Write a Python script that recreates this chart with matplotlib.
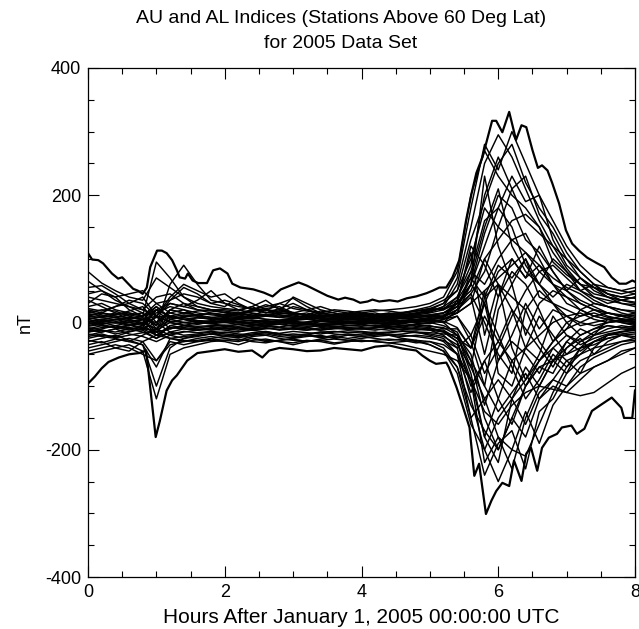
import matplotlib
matplotlib.use("Agg")
import matplotlib.pyplot as plt
from matplotlib.ticker import MultipleLocator

plt.rcParams['font.family'] = ['Liberation Sans', 'DejaVu Sans']
plt.rcParams['axes.unicode_minus'] = False

# ---- data -------------------------------------------------------------
title = "AU and AL Indices (Stations Above 60 Deg Lat)\nfor 2005 Data Set"
xlabel = "Hours After January 1, 2005 00:00:00 UTC"
ylabel = "nT"

# common time grid for station traces (hours)
station_hours = [0.0, 0.2, 0.4, 0.6, 0.8, 1.0, 1.2, 1.4, 1.6, 1.8,
                 2.0, 2.2, 2.4, 2.6, 2.8, 3.0, 3.2, 3.4, 3.6, 3.8,
                 4.0, 4.2, 4.4, 4.6, 4.8, 5.0, 5.2, 5.4, 5.6, 5.8,
                 6.0, 6.2, 6.4, 6.6, 6.8, 7.0, 7.2, 7.4, 7.6, 7.8, 8.0]

s01 = [80, 62, 50, 40, 35, 70, 55, 40, 30, 25,
       22, 20, 15, 12, 14, 16, 10, 8, 6, 8,
       6, 8, 10, 12, 15, 18, 25, 60, 150, 250,
       295, 260, 210, 160, 120, 85, 60, 45, 40, 35, 32]
s02 = [55, 58, 45, 30, 20, 10, 35, 55, 45, 30,
       25, 40, 30, 20, 15, 25, 20, 12, 10, 12,
       14, 10, 8, 12, 15, 20, 30, 70, 180, 280,
       240, 300, 250, 200, 130, 90, 70, 55, 50, 45, 50]
s03 = [40, 35, 30, 25, 15, -5, 60, 90, 60, 35,
       30, 20, 25, 35, 20, 15, 12, 18, 15, 10,
       8, 12, 15, 10, 12, 15, 20, 40, 90, 200,
       260, 210, 230, 170, 140, 100, 80, 60, 45, 40, 45]
s04 = [30, 45, 40, 20, 10, 95, 70, 40, 25, 20,
       18, 15, 20, 28, 22, 15, 10, 8, 12, 14,
       10, 8, 6, 10, 14, 18, 22, 30, 60, 120,
       180, 230, 190, 200, 160, 120, 90, 70, 55, 50, 55]
s05 = [20, 15, 25, 35, 30, 10, 40, 60, 50, 40,
       45, 30, 20, 15, 18, 40, 30, 20, 15, 10,
       12, 10, 8, 8, 10, 12, 15, 25, 45, 80,
       150, 210, 160, 140, 120, 100, 70, 50, 40, 35, 30]
s06 = [25, 30, 20, 15, 10, 20, 30, 25, 35, 50,
       30, 25, 22, 18, 30, 38, 25, 15, 20, 18,
       15, 12, 10, 14, 18, 22, 20, 30, 50, 100,
       130, 160, 170, 150, 95, 75, 60, 55, 45, 40, 38]
s07 = [10, 15, 12, 18, 25, 0, 20, 15, 18, 20,
       15, 12, 18, 22, 25, 15, 12, 10, 8, 10,
       12, 15, 10, 12, 14, 16, 25, 40, 80, 60,
       100, 130, 110, 90, 70, 55, 45, 30, 25, 20, 18]
s08 = [5, 10, 8, 12, 15, -10, 10, 15, 12, 8,
       10, 15, 12, 10, 8, 12, 15, 10, 8, 6,
       5, 8, 10, 6, 8, 10, 15, 30, 60, 30,
       80, 100, 70, 90, 60, 50, 70, 55, 40, 30, 25]
s09 = [0, 5, 2, -5, 0, -10, 5, 8, 3, 0,
       2, 5, 3, 0, 2, 4, 6, 3, 1, 2,
       3, 5, 2, 0, 2, 5, 0, -20, -80, -180,
       -120, -60, -40, -20, 0, 10, 15, 5, 0, 2, 0]
s10 = [-5, 0, 5, 0, -5, 20, 10, 5, 0, -2,
       0, -3, -5, 0, 2, -2, 0, -4, -2, 0,
       2, 0, -2, 0, 3, 0, -5, -15, -60, -150,
       -200, -150, -100, -60, -30, -10, 0, 10, 5, 0, -5]
s11 = [-10, -5, -8, -12, -5, 10, -10, -5, -8, -10,
       -6, -8, -10, -5, -3, -6, -8, -5, -4, -2,
       -3, -5, -2, -4, -6, -8, -15, -30, -90, -220,
       -180, -230, -150, -100, -60, -40, -20, -10, -5, -8, -10]
s12 = [-20, -15, -10, -18, -22, -30, -20, -15, -12, -10,
       -12, -15, -10, -8, -12, -10, -8, -12, -10, -8,
       -10, -8, -6, -8, -10, -12, -20, -40, -120, -200,
       -250, -200, -210, -160, -110, -70, -50, -30, -20, -15, -10]
s13 = [-30, -25, -20, -28, -35, -100, -40, -25, -20, -18,
       -15, -18, -20, -15, -18, -22, -20, -15, -18, -20,
       -18, -15, -20, -18, -15, -20, -25, -50, -150, -240,
       -190, -170, -230, -140, -120, -80, -60, -50, -40, -30, -25]
s14 = [-40, -35, -30, -25, -30, -60, -35, -30, -28, -25,
       -22, -20, -25, -30, -28, -25, -22, -20, -25, -28,
       -25, -22, -20, -25, -28, -30, -40, -70, -130, -170,
       -200, -150, -180, -120, -100, -110, -90, -70, -60, -50, -40]
s15 = [-50, -45, -40, -35, -45, -120, -50, -40, -35, -30,
       -28, -30, -25, -28, -30, -35, -30, -28, -32, -30,
       -28, -30, -32, -35, -40, -45, -50, -60, -90, -140,
       -160, -130, -110, -100, -105, -110, -115, -110, -95, -80, -70]
s16 = [10, 8, 12, 15, 10, 30, 15, 10, 12, 14,
       12, 10, 14, 12, 10, 8, 10, 12, 10, 8,
       10, 12, 8, 10, 12, 10, 8, 20, 40, -50,
       40, 80, 60, 20, -30, -10, 20, 30, 25, 15, 10]
s17 = [15, 20, 18, 10, 5, 0, 15, 20, 15, 12,
       10, 8, 6, 10, 12, 10, 8, 6, 5, 8,
       6, 4, 6, 8, 5, 3, 0, 10, -30, -100,
       20, 60, -20, 30, 50, 40, 20, 10, 15, 12, 8]
s18 = [-15, -10, -5, -8, -12, 10, 0, -5, -8, -6,
       -5, -8, -6, -4, -2, -5, -3, -6, -8, -5,
       -4, -6, -8, -5, -3, -5, -10, -10, -40, 50,
       -80, -100, -40, 10, -20, -50, -30, -20, -10, -5, -8]
s19 = [5, 0, -5, -10, -8, -15, -10, -5, 0, 3,
       5, 2, 0, -2, 0, 3, 5, 2, 0, -2,
       0, 2, 4, 2, 0, -2, 5, 15, 30, 100,
       60, 20, -40, -60, -30, 0, 10, 20, 15, 10, 5]
s20 = [-25, -20, -22, -15, -10, 0, -15, -20, -18, -15,
       -18, -20, -16, -14, -18, -20, -18, -15, -14, -16,
       -15, -18, -16, -14, -16, -18, -22, -35, -70, -120,
       -90, -120, -70, -100, -60, -30, -45, -30, -20, -18, -15]
s21 = [0, -5, -8, -5, 0, 20, 10, 5, 0, -2,
       -5, -3, 0, 2, 0, -2, -4, -2, 0, 2,
       0, -2, 0, 2, 4, 2, 0, 20, 80, 160,
       180, 150, 90, 60, 30, 0, -20, -10, 0, 5, 2]
s22 = [-8, -12, -15, -10, -15, -25, -5, -8, -10, -12,
       -10, -8, -12, -10, -8, -10, -12, -10, -8, -10,
       -8, -10, -12, -10, -8, -10, -12, -25, -60, -100,
       -140, -110, -80, -120, -90, -60, -80, -40, -20, -15, -12]
s23 = [35, 25, 15, 5, 0, -10, 20, 30, 20, 15,
       12, 10, 8, 12, 15, 12, 8, 5, 4, 6,
       5, 6, 8, 6, 4, 6, 10, 25, 60, 140,
       200, 180, 130, 110, 80, 50, 30, 20, 10, 5, 0]
s24 = [-35, -30, -40, -45, -30, -20, -25, -30, -25, -22,
       -25, -28, -22, -20, -25, -28, -30, -26, -22, -25,
       -22, -25, -28, -26, -30, -35, -45, -70, -150, -120,
       -180, -200, -140, -190, -130, -100, -70, -55, -45, -35, -30]
s25 = [2, 5, 8, 5, 10, 15, 25, 20, 10, 5,
       8, 6, 10, 20, 12, 8, 10, 15, 12, 8,
       10, 8, 12, 15, 20, 25, 35, 50, 100, 180,
       150, 130, 140, 100, 60, 40, 30, 20, 15, 10, 12]
s26 = [12, 15, 10, 8, 5, 10, 8, 12, 10, 8,
       6, 8, 10, 12, 8, 6, 8, 10, 12, 10,
       8, 10, 12, 10, 8, 10, 12, 15, 30, 50,
       70, 90, 110, 80, 90, 70, 50, 60, 45, 35, 40]
s27 = [-12, -8, -5, 0, -3, -20, -8, -10, -12, -8,
       -10, -12, -8, -6, -8, -10, -12, -8, -6, -8,
       -10, -8, -6, -8, -10, -12, -15, -30, -100, -60,
       -120, -160, -100, -70, -80, -40, -25, -50, -30, -20, -25]
s28 = [18, 12, 8, 2, 5, -15, 5, 10, 8, 5,
       4, 6, 8, 5, 3, 5, 8, 6, 4, 5,
       4, 2, 0, 3, 5, 8, 10, 20, 45, 0,
       -50, -80, 20, -30, -60, -80, -40, -20, 5, 10, 15]
s29 = [-18, -22, -25, -30, -20, -10, -20, -25, -22, -18,
       -20, -22, -18, -16, -20, -18, -20, -24, -20, -18,
       -20, -18, -20, -22, -20, -22, -30, -50, -110, -60,
       -30, -60, -100, -70, -60, -50, -40, -35, -25, -20, -22]
s30 = [45, 50, 35, 25, 20, 40, 45, 30, 25, 20,
       20, 18, 25, 15, 22, 30, 20, 15, 12, 14,
       15, 18, 20, 22, 25, 30, 40, 80, 200, 270,
       230, 200, 180, 150, 110, 80, 60, 40, 35, 30, 28]
s31 = [-3, 2, 5, 8, 5, -20, -5, 0, 2, 0,
       3, 0, -2, -4, 0, 2, 0, -3, -2, 0,
       -2, 0, -3, -5, -2, 0, 5, 10, -20, -80,
       -40, 10, 50, 80, 60, 30, 20, 10, 5, 0, -3]
s32 = [8, 3, 0, -3, -8, 20, 0, 5, 3, 2,
       0, 2, 4, 2, 0, -2, 0, 3, 4, 2,
       0, 3, 5, 2, 0, 4, 10, 30, 120, 90,
       40, 100, 70, 120, 80, 50, 35, 25, 15, 10, 5]
s33 = [-45, -40, -35, -40, -50, -60, -30, -35, -30, -28,
       -30, -35, -28, -26, -30, -32, -28, -30, -34, -30,
       -28, -30, -32, -30, -28, -35, -45, -80, -160, -200,
       -150, -120, -160, -110, -90, -100, -80, -70, -60, -45, -40]
s34 = [22, 18, 25, 30, 40, 10, 30, 25, 20, 18,
       16, 14, 18, 20, 18, 15, 20, 25, 18, 15,
       18, 20, 18, 15, 18, 20, 22, 35, 70, 40,
       90, 70, 100, 60, 40, 60, 50, 40, 30, 35, 40]
s35 = [2, -2, 0, 3, -2, 8, 2, 0, -3, 1,
       3, 1, -1, 2, 0, -2, 1, 3, 0, -1,
       1, 3, 0, -2, 1, 3, 2, -8, -40, 30,
       -60, -20, 30, -10, 20, 10, -5, 0, 5, 2, 0]
s36 = [-6, -3, -8, -4, -10, -12, 0, -4, -6, -5,
       -4, -6, -3, -5, -7, -4, -6, -5, -3, -5,
       -6, -4, -5, -7, -4, -6, -8, -20, -70, 40,
       60, -40, -90, -50, 10, -20, -30, -15, -5, -8, -6]
s37 = [-15, -12, -18, -14, -10, -20, -18, -14, -16, -14,
       -16, -14, -12, -15, -17, -14, -16, -18, -15, -13,
       -14, -16, -15, -13, -15, -16, -18, -20, -50, -130,
       -60, -30, -50, -80, -40, -20, -35, -25, -18, -14, -12]
s38 = [6, 8, 4, 6, 10, 25, 8, 5, 7, 6,
       4, 6, 8, 5, 4, 6, 5, 7, 6, 4,
       5, 7, 4, 6, 8, 5, 6, 15, 60, 230,
       120, 60, 100, 40, 30, 20, 10, 15, 8, 6, 4]
s39 = [-28, -32, -26, -30, -35, -70, -25, -28, -30, -26,
       -28, -26, -30, -32, -28, -26, -30, -28, -26, -28,
       -30, -28, -26, -28, -32, -30, -35, -50, -90, -180,
       -220, -120, -90, -60, -40, -60, -50, -40, -35, -30, -28]
s40 = [-2, 2, -1, 0, 4, 25, 5, 0, -2, 0,
       2, -1, 1, 3, 1, 0, -2, 1, 2, 0,
       -1, 1, 3, 0, 2, 4, 8, 35, 110, -20,
       60, 40, 20, 50, 30, 10, 0, -5, 0, 3, 2]
s41 = [-22, -18, -24, -20, -16, -15, -25, -22, -20, -18,
       -22, -24, -20, -18, -22, -24, -20, -22, -24, -20,
       -22, -20, -18, -20, -22, -25, -28, -40, -20, 30,
       -20, -70, -120, -90, -50, -70, -40, -30, -25, -20, -18]
s42 = [14, 10, 15, 12, 8, -5, 20, 15, 12, 14,
       12, 14, 10, 12, 15, 14, 12, 10, 12, 14,
       12, 10, 14, 12, 10, 12, 15, 25, 70, 150,
       210, 120, 80, 60, 100, 80, 50, 35, 25, 20, 15]
s43 = [-12, -15, -10, -8, -12, -25, -15, -10, -12, -10,
       -8, -10, -12, -9, -11, -8, -10, -12, -9, -11,
       -10, -12, -9, -11, -12, -10, -14, -25, -40, 10,
       -30, 20, -10, -40, -70, -30, -10, -20, -15, -10, -12]
s44 = [65, 50, 40, 45, 50, 30, 35, 45, 40, 30,
       35, 28, 20, 25, 30, 22, 18, 15, 10, 12,
       10, 12, 14, 16, 18, 22, 30, 50, 130, 190,
       250, 280, 220, 180, 150, 110, 80, 60, 55, 50, 45]

stations = [s01, s02, s03, s04, s05, s06, s07, s08, s09, s10, s11,
            s12, s13, s14, s15, s16, s17, s18, s19, s20, s21, s22,
            s23, s24, s25, s26, s27, s28, s29, s30, s31, s32, s33,
            s34, s35, s36, s37, s38, s39, s40, s41, s42, s43, s44]

# AU index (upper envelope)
au_hours = [0.0, 0.06, 0.15, 0.22, 0.35, 0.44, 0.5, 0.57, 0.66, 0.73,
            0.8, 0.86, 0.91, 1.01, 1.08, 1.15, 1.23, 1.3, 1.34, 1.42,
            1.46, 1.53, 1.61, 1.74, 1.83, 1.93, 2.04, 2.11, 2.23, 2.42,
            2.57, 2.7, 2.82, 2.96, 3.08, 3.2, 3.35, 3.5, 3.66, 3.76,
            3.88, 3.98, 4.09, 4.16, 4.26, 4.41, 4.53, 4.66, 4.8, 4.95,
            5.04, 5.14, 5.24, 5.33, 5.43, 5.53, 5.61, 5.68, 5.77, 5.91,
            5.97, 6.06, 6.16, 6.26, 6.34, 6.41, 6.5, 6.58, 6.64, 6.72,
            6.79, 6.89, 6.99, 7.08, 7.18, 7.3, 7.43, 7.55, 7.66, 7.77,
            7.87, 7.96, 8.0]
au_values = [109, 99, 98, 93, 77, 69, 71, 63, 53, 50,
             45, 55, 87, 113, 113, 109, 98, 82, 71, 69,
             77, 66, 62, 62, 82, 85, 77, 61, 55, 52,
             47, 41, 52, 58, 63, 58, 50, 42, 36, 39,
             36, 31, 33, 36, 33, 35, 33, 38, 41, 46,
             50, 55, 55, 71, 98, 161, 203, 235, 260, 317,
             317, 299, 331, 287, 310, 307, 271, 243, 247, 239,
             219, 187, 145, 124, 113, 102, 94, 87, 71, 61,
             61, 66, 64]

# AL index (lower envelope)
al_hours = [0.0, 0.1, 0.2, 0.3, 0.45, 0.6, 0.75, 0.85, 0.99, 1.05,
            1.15, 1.23, 1.3, 1.45, 1.6, 1.8, 2.0, 2.2, 2.4, 2.55,
            2.65, 2.8, 3.0, 3.2, 3.4, 3.6, 3.8, 4.0, 4.2, 4.4,
            4.6, 4.8, 4.89, 5.0, 5.09, 5.24, 5.28, 5.39, 5.47, 5.58,
            5.65, 5.72, 5.82, 5.9, 5.97, 6.06, 6.16, 6.23, 6.34, 6.41,
            6.48, 6.57, 6.64, 6.74, 6.86, 6.93, 7.07, 7.15, 7.26, 7.37,
            7.52, 7.66, 7.8, 7.84, 7.96, 8.0]
al_values = [-96, -85, -72, -62, -55, -50, -48, -44, -180, -155,
             -107, -91, -83, -60, -48, -45, -42, -46, -44, -55,
             -44, -40, -42, -45, -44, -40, -42, -44, -38, -36,
             -41, -44, -52, -60, -65, -63, -71, -102, -128, -165,
             -241, -222, -301, -280, -265, -252, -257, -217, -249, -206,
             -197, -233, -197, -181, -175, -165, -162, -175, -167, -139,
             -128, -118, -134, -150, -150, -107]

# ---- plot -------------------------------------------------------------
fig = plt.figure(figsize=(6.39, 6.29), dpi=100)
ax = fig.add_axes([88 / 639, 1 - 577 / 629, 547 / 639, 509 / 629])

for s in stations:
    ax.plot(station_hours, s, color='black', lw=1.05)
ax.plot(au_hours, au_values, color='black', lw=1.6)
ax.plot(al_hours, al_values, color='black', lw=1.6)

ax.set_xlim(0, 8)
ax.set_ylim(-400, 400)
ax.xaxis.set_major_locator(MultipleLocator(2))
ax.xaxis.set_minor_locator(MultipleLocator(0.5))
ax.yaxis.set_major_locator(MultipleLocator(200))
ax.yaxis.set_minor_locator(MultipleLocator(50))
ax.tick_params(which='both', direction='in', top=True, right=True,
               labelsize=13, width=0.8)
ax.tick_params(axis='y', pad=5)
ax.tick_params(axis='x', pad=5)
ax.tick_params(which='major', length=8)
ax.tick_params(which='minor', length=4.5)
for sp in ax.spines.values():
    sp.set_linewidth(0.9)

ax.set_xlabel(xlabel, fontsize=15, labelpad=5)
ax.set_ylabel(ylabel, fontsize=13, labelpad=8)
fig.text(341 / 639, 1 - 31 / 629, title, ha='center', va='center',
         fontsize=14, linespacing=1.6)

fig.savefig("out.png", dpi=100)
